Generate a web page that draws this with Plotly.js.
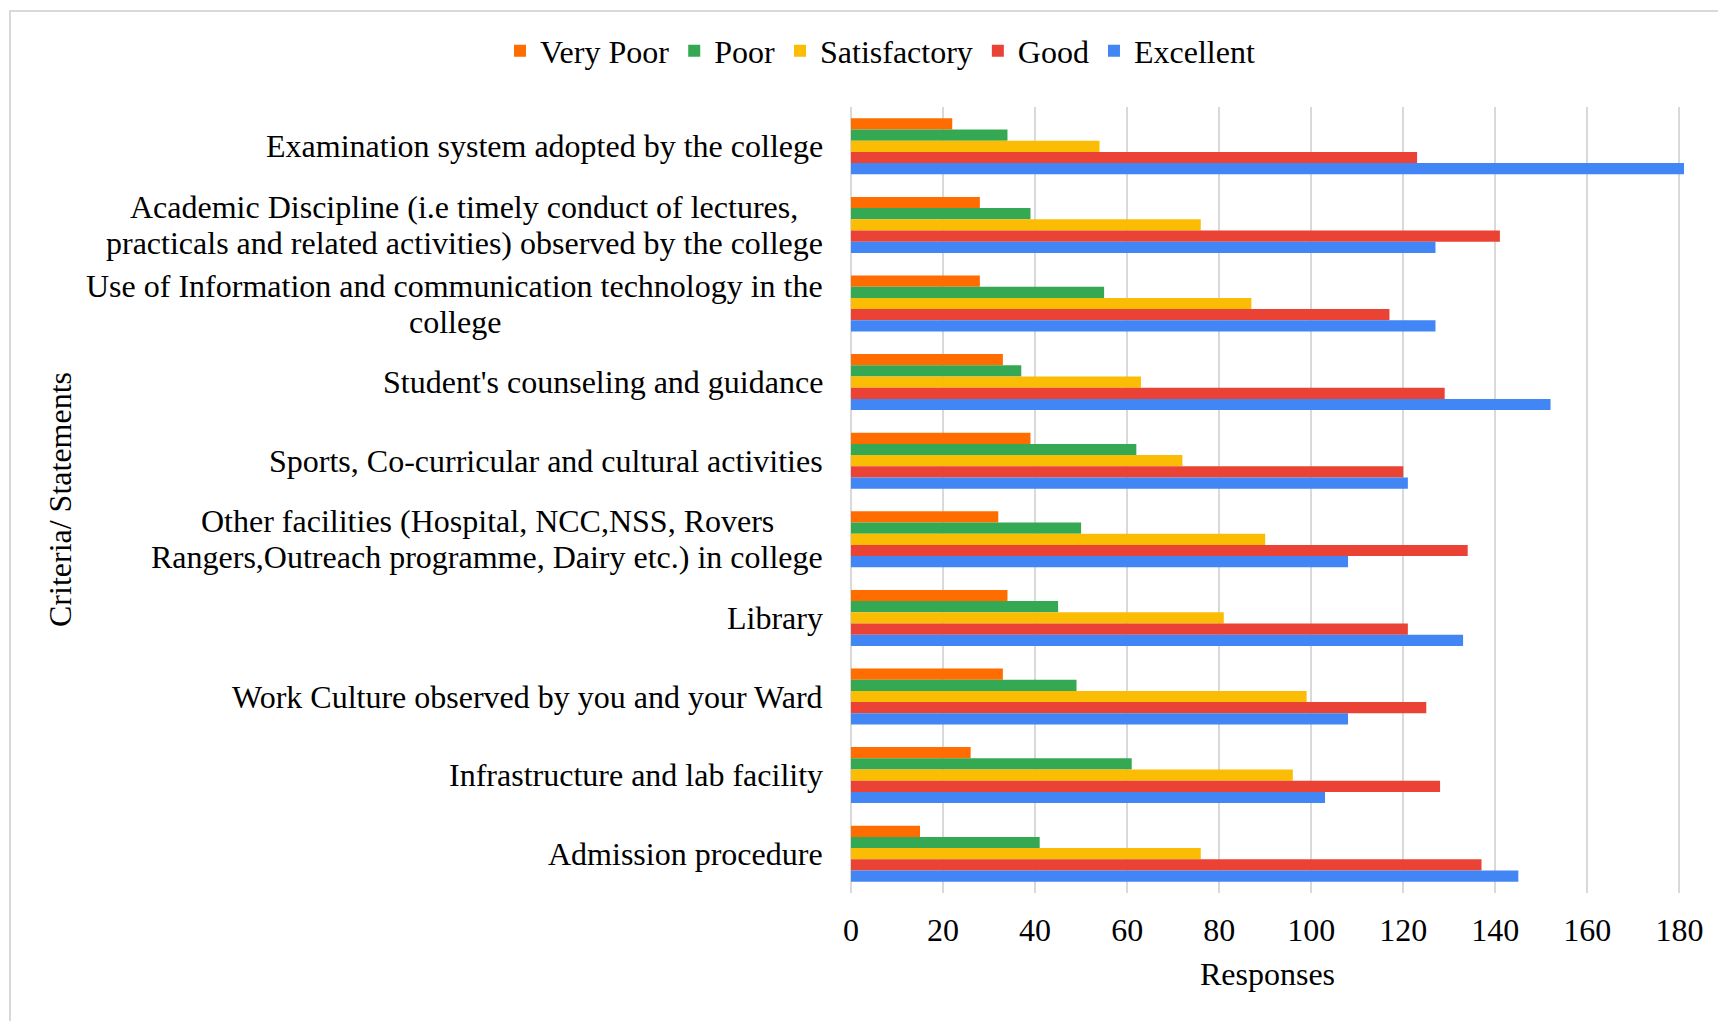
<!DOCTYPE html>
<html>
<head>
<meta charset="utf-8">
<script src="https://cdn.plot.ly/plotly-3.0.1.min.js"></script>
<style>
  html, body { margin: 0; padding: 0; background: #fff; }
  #wrap { position: relative; width: 1718px; height: 1021px; overflow: hidden; }
  #chart { position: absolute; left: 0; top: 0; width: 1718px; height: 1021px; }
  #frame { position: absolute; left: 9px; top: 10px; width: 1740px; height: 1040px;
           border-left: 2px solid #d9d9d9; border-top: 2px solid #d9d9d9; pointer-events: none; }
</style>
</head>
<body>
<div id="wrap"><div id="chart"></div><div id="frame"></div></div>
<script>
const categories = [
  "Examination system adopted by the college",
  "Academic Discipline (i.e timely conduct of lectures,<br>practicals and related activities) observed by the college",
  "Use of Information and communication technology in the<br>college",
  "Student's counseling and guidance",
  "Sports, Co-curricular and cultural activities",
  "Other facilities (Hospital, NCC,NSS, Rovers<br>Rangers,Outreach programme, Dairy etc.) in college",
  "Library",
  "Work Culture observed by you and your Ward",
  "Infrastructure and lab facility",
  "Admission procedure"
];
const seriesNames = ["Very Poor", "Poor", "Satisfactory", "Good", "Excellent"];
const veryPoor     = [22, 28, 28, 33, 39, 32, 34, 33, 26, 15];
const poor         = [34, 39, 55, 37, 62, 50, 45, 49, 61, 41];
const satisfactory = [54, 76, 87, 63, 72, 90, 81, 99, 96, 76];
const good         = [123, 141, 117, 129, 120, 134, 121, 125, 128, 137];
const excellent    = [181, 127, 127, 152, 121, 108, 133, 108, 103, 145];
const xTicks = [0, 20, 40, 60, 80, 100, 120, 140, 160, 180];
const xTitle = "Responses";
const yTitle = "Criteria/ Statements";

const colors = ["#FF6D01", "#34A853", "#FBBC04", "#EA4335", "#4285F4"];
const seriesValues = [veryPoor, poor, satisfactory, good, excellent];
const FONT = "Liberation Serif, Times New Roman, serif";
const FS = 32;

const W = 1718, H = 1021;
const M = { l: 851, r: 34, t: 107, b: 128 };
const plotW = W - M.l - M.r;

const traces = seriesNames.map((name, i) => ({
  type: "bar",
  orientation: "h",
  name: name,
  y: categories,
  x: seriesValues[i],
  marker: { color: colors[i], line: { width: 0 } },
  hoverinfo: "x+name"
}));

// measure text widths to centre multi-line category labels with tighter line spacing
const cv = document.createElement("canvas").getContext("2d");
cv.font = FS + "px 'Liberation Serif'";
const LINE_H = 36;

const annotations = [];
categories.forEach(c => {
  const lines = c.split("<br>");
  const maxW = Math.max(...lines.map(s => cv.measureText(s).width));
  const n = lines.length;
  lines.forEach((s, i) => {
    annotations.push({
      xref: "paper", yref: "y",
      x: 0, y: c,
      xanchor: "center", yanchor: "middle",
      xshift: -28 - maxW / 2,
      yshift: ((n - 1) / 2 - i) * LINE_H,
      text: s, showarrow: false,
      font: { family: FONT, size: FS, color: "#000" }
    });
  });
});
annotations.push({
  xref: "paper", yref: "paper",
  x: (60 - M.l) / plotW, y: 0.5,
  xanchor: "center", yanchor: "middle",
  text: yTitle, textangle: -90, showarrow: false,
  font: { family: FONT, size: FS, color: "#000" }
});

const layout = {
  width: W, height: H,
  margin: { l: M.l, r: M.r, t: M.t, b: M.b, autoexpand: false },
  paper_bgcolor: "#fff", plot_bgcolor: "#fff",
  barmode: "group",
  bargap: 0.287,
  bargroupgap: 0,
  font: { family: FONT, size: FS, color: "#000" },
  showlegend: true,
  legend: {
    orientation: "h",
    xref: "container", yref: "container",
    x: 880 / W, y: 1 - 51 / H,
    xanchor: "center", yanchor: "middle",
    font: { family: FONT, size: FS, color: "#000" },
    itemwidth: 30,
    traceorder: "normal",
    bgcolor: "rgba(0,0,0,0)"
  },
  xaxis: {
    range: [0, 181],
    tickvals: xTicks,
    ticktext: xTicks.map(String),
    showgrid: true, gridcolor: "#d9d9d9", gridwidth: 1.5,
    zeroline: true, zerolinecolor: "#d9d9d9", zerolinewidth: 1.5,
    showline: false,
    ticks: "",
    ticklabelstandoff: 15,
    tickfont: { family: FONT, size: FS, color: "#000" },
    title: { text: xTitle, font: { family: FONT, size: FS, color: "#000" }, standoff: 15 },
    fixedrange: true
  },
  yaxis: {
    type: "category",
    autorange: "reversed",
    showticklabels: false,
    showgrid: false, zeroline: false, showline: false, ticks: "",
    fixedrange: true
  },
  annotations: annotations
};

Plotly.newPlot("chart", traces, layout, { displayModeBar: false });
</script>
</body>
</html>
